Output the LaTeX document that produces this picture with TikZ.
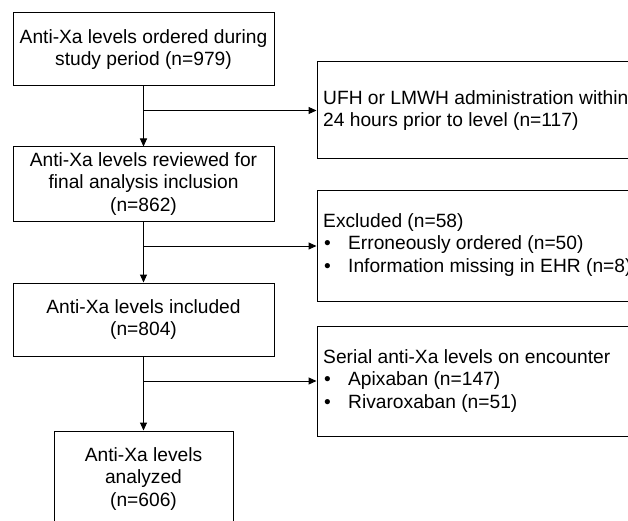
\documentclass[tikz,border=0pt]{standalone}
\usepackage{fontspec}
\setmainfont{Liberation Sans}
\usetikzlibrary{arrows.meta}
\begin{document}
\begin{tikzpicture}[x=1pt,y=-1pt,
  every node/.style={font=\fontsize{19.2}{22.5}\selectfont},
  mainbox/.style={draw=black, line width=1pt, align=center, inner sep=0pt, minimum width=261pt},
  sidebox/.style={draw=black, line width=1pt, inner sep=0pt, minimum width=343pt},
  sidetext/.style={anchor=west, align=left, inner sep=0pt},
  arr/.style={draw=black, line width=1pt, -{Triangle[length=8pt,width=7pt]}}]
\clip (0,0) rectangle (628,521);
\fill[white] (0,0) rectangle (628,521);
\node[mainbox, minimum height=73pt] (b1) at (143.5,49.5) {Anti-Xa levels ordered during\\study period (n=979)};
\node[mainbox, minimum height=74pt] (b2) at (143.5,184) {Anti-Xa levels reviewed for\\final analysis inclusion\\(n=862)};
\node[mainbox, minimum height=73pt] (b3) at (143.5,319.5) {Anti-Xa levels included\\(n=804)};
\node[mainbox, minimum width=179pt, minimum height=96pt] (b4) at (143.5,479) {Anti-Xa levels\\analyzed\\(n=606)};
\node[sidebox, minimum height=97pt] (r1) at (488.5,110.5) {};
\node[sidebox, minimum height=110pt] (r2) at (488.5,246) {};
\node[sidebox, minimum height=110pt] (r3) at (488.5,381) {};
\node[sidetext] (t1) at (323,110.5) {UFH or LMWH administration within\\24 hours prior to level (n=117)};
\node[sidetext] (t2) at (323,245) {Excluded (n=58)\\\makebox[25pt][l]{\hspace{1pt}\textbullet}Erroneously ordered (n=50)\\\makebox[25pt][l]{\hspace{1pt}\textbullet}Information missing in EHR (n=8)};
\node[sidetext] (t3) at (323,381) {Serial anti-Xa levels on encounter\\\makebox[25pt][l]{\hspace{1pt}\textbullet}Apixaban (n=147)\\\makebox[25pt][l]{\hspace{1pt}\textbullet}Rivaroxaban (n=51)};
\coordinate (j1) at (b1.south |- r1.west);
\coordinate (j2) at (b2.south |- r2.west);
\coordinate (j3) at (b3.south |- r3.west);
\draw[arr] (b1.south) -- (b2.north);
\draw[arr] (b2.south) -- (b3.north);
\draw[arr] (b3.south) -- (b4.north);
\draw[arr] (j1) -- (r1.west);
\draw[arr] (j2) -- (r2.west);
\draw[arr] (j3) -- (r3.west);
\end{tikzpicture}
\end{document}
